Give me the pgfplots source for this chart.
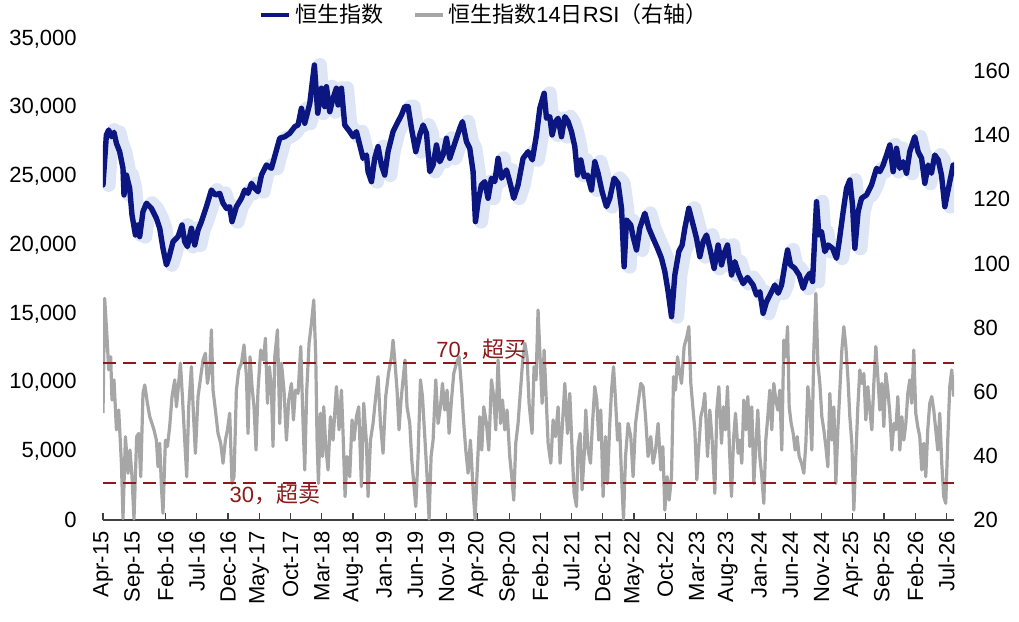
\documentclass[border=0pt]{standalone}
\usepackage{fontspec}
\setmainfont{Liberation Sans}
\newfontfamily\cjk{Noto Sans CJK SC}
\usepackage{pgfplots}
\pgfplotsset{compat=1.18}
\usepackage{pgfplotstable}
\definecolor{hsiblue}{RGB}{12,22,128}
\definecolor{bandblue}{RGB}{222,230,245}
\definecolor{rsigray}{RGB}{166,166,166}
\definecolor{ob}{RGB}{140,26,26}

\pgfplotstableread{
m v
0.00 24380
0.54 28020
0.91 28380
1.34 27890
1.76 28210
2.15 27410
2.67 26800
3.20 25590
3.36 23650
3.75 25100
4.27 24140
4.64 22200
5.19 20740
5.60 21470
5.87 20620
6.40 22440
6.95 23050
7.75 22680
8.55 21950
9.08 21230
9.60 19770
10.15 18560
10.52 19040
11.21 20250
12.01 20620
12.65 21470
13.08 20250
13.51 19890
14.15 21230
14.68 20010
15.21 21100
15.75 21710
16.55 22800
17.35 24010
17.99 23650
18.68 23770
19.21 23050
19.75 22680
20.28 22800
20.65 21710
21.35 22800
22.16 23410
22.68 24010
23.21 23770
23.76 24500
24.28 24140
24.81 23890
25.36 25100
26.16 25830
26.96 25590
27.76 26920
28.29 27780
29.09 27890
29.89 28140
30.69 28620
31.22 28740
31.76 29960
32.29 28870
33.09 30300
33.83 33110
34.37 29600
34.96 31420
35.49 30080
35.76 31530
36.29 29710
36.82 30690
37.36 31420
37.62 30200
38.16 31420
38.69 28740
39.49 28260
40.02 27890
40.56 28260
41.09 27290
41.62 26320
42.17 26560
42.42 25350
42.97 24620
43.49 26320
44.02 27170
44.56 25830
45.09 25100
45.62 26800
46.42 28260
47.22 28990
47.77 29470
48.30 30080
48.83 30080
49.37 28500
50.06 26800
50.70 28020
51.23 28740
51.77 28140
52.30 25350
52.83 25830
53.37 27290
53.90 26070
54.43 26560
54.97 27780
55.50 26320
56.03 27050
56.57 27780
57.10 28500
57.53 28990
58.17 27530
58.70 27050
59.23 25350
59.61 21710
60.03 23160
60.57 24380
61.10 24620
61.63 23410
62.17 24870
62.70 24620
63.23 26320
63.78 24870
64.58 25470
65.10 24620
65.74 23410
66.43 24380
67.23 26320
68.03 26800
68.71 26200
69.38 28020
69.91 29960
70.60 31050
70.98 29230
71.51 29350
71.88 28020
72.42 28990
72.84 29230
73.38 27890
73.91 29350
74.44 28990
74.98 28260
75.51 27170
75.94 25100
76.47 26200
77.00 24980
77.54 25100
78.18 24010
78.71 26070
79.24 25230
79.88 23890
80.58 22800
81.11 23410
81.80 24870
82.44 24500
82.99 22680
83.40 18430
83.79 21830
84.47 21470
84.84 20620
85.39 19650
85.91 21230
86.72 22320
87.36 21230
88.04 20500
88.75 19770
89.39 19040
89.92 18070
90.45 16610
90.99 14790
91.52 17830
92.16 19530
92.69 20010
93.12 21230
93.76 22680
94.45 21470
94.99 20500
95.52 19160
96.05 20250
96.59 20740
97.12 19770
97.81 18310
98.45 20010
98.99 18560
99.52 19530
99.95 20010
100.59 17830
101.12 18800
101.76 17900
102.45 17200
103.15 17650
104.05 17100
104.60 16370
105.13 16610
105.65 15040
106.20 15890
107.00 16610
107.53 17100
108.06 16500
108.60 17100
109.13 18560
109.56 19650
110.04 18560
110.73 18310
111.42 17830
112.06 16860
112.60 17590
113.13 17950
113.56 17350
114.20 23160
114.57 20740
115.00 20980
115.53 19530
116.06 20010
116.76 19770
117.40 19040
117.82 20250
118.46 22440
119.00 24140
119.53 24740
119.96 22920
120.33 19770
120.86 22440
121.40 23410
122.20 23650
123.00 24380
123.80 25590
124.33 25350
124.86 25830
125.40 26560
125.93 27290
126.46 25350
127.00 27050
127.53 25590
128.06 26070
128.60 25230
129.12 26800
129.92 27890
130.46 26800
131.01 26320
131.53 24500
132.06 25830
132.59 25230
133.12 26560
133.67 26200
134.20 25100
134.73 22800
135.42 24380
136.07 25830
}\hsi

\pgfplotstableread{
m r
0.00 53.3
0.27 89.1
0.70 75.1
0.91 66.8
1.23 70.9
1.44 57.4
1.76 63.7
2.15 48.1
2.51 54.3
2.95 37.7
3.20 20.5
3.59 46.0
4.00 34.6
4.32 41.8
4.64 33.5
4.96 20.3
5.39 46.0
5.71 47.0
6.04 33.5
6.40 59.5
6.68 62.1
7.11 56.4
7.48 52.2
7.84 50.1
8.16 48.1
8.55 44.9
8.80 36.6
9.08 43.9
9.35 30.4
9.60 22.1
9.99 44.9
10.31 42.9
10.67 49.1
11.05 58.5
11.48 63.7
11.75 55.3
12.01 60.5
12.39 68.9
12.71 58.5
13.08 44.9
13.40 33.5
13.72 55.3
14.15 67.8
14.47 53.3
14.79 40.8
15.21 58.5
15.64 64.7
16.01 69.9
16.39 72.0
16.71 62.6
17.08 66.8
17.35 79.3
17.61 60.5
17.99 54.3
18.41 47.0
18.84 43.9
19.21 37.7
19.59 44.9
19.91 48.1
20.28 53.3
20.65 31.4
20.97 33.5
21.35 60.5
21.72 66.8
22.16 68.9
22.57 74.6
22.96 64.7
23.21 47.0
23.53 70.9
23.85 61.6
24.17 55.3
24.49 41.8
24.81 60.5
25.24 73.0
25.68 69.9
26.00 76.7
26.32 56.4
26.64 67.8
26.96 60.5
27.21 42.9
27.49 70.9
27.92 79.3
28.29 50.1
28.56 68.9
28.97 60.5
29.36 44.9
29.73 57.4
30.16 62.6
30.48 51.2
30.80 60.5
31.22 59.5
31.65 74.1
32.02 50.1
32.29 35.6
32.61 60.5
32.98 75.1
33.36 81.3
33.73 88.6
34.05 70.9
34.26 44.9
34.48 31.4
34.80 53.3
35.12 39.8
35.33 55.3
35.65 42.9
36.02 35.6
36.40 52.2
36.82 44.9
37.09 53.3
37.36 61.6
37.78 48.1
38.16 60.5
38.42 47.0
38.74 27.3
39.06 39.8
39.49 33.5
39.86 51.2
40.18 44.9
40.56 52.2
40.93 55.3
41.36 30.4
41.73 56.4
42.17 43.9
42.42 27.3
42.81 44.9
43.22 50.1
43.65 58.5
44.02 64.7
44.41 50.1
44.82 40.8
45.25 58.5
45.69 65.7
46.17 70.9
46.42 76.1
46.74 68.9
47.06 60.5
47.38 48.1
47.70 57.4
48.02 63.7
48.34 69.9
48.66 55.3
49.10 50.1
49.42 38.7
49.74 31.4
50.06 24.2
50.42 39.8
50.81 63.7
51.13 58.5
51.50 46.0
51.87 33.5
52.19 20.3
52.51 39.8
52.83 44.9
53.26 63.7
53.63 50.1
54.01 55.3
54.33 62.6
54.70 54.3
55.07 60.5
55.39 47.0
55.77 57.4
56.14 65.7
56.57 68.9
56.99 70.9
57.37 61.6
57.74 50.1
58.06 41.8
58.43 34.6
58.81 44.9
59.23 29.4
59.55 20.3
59.87 34.6
60.30 52.2
60.62 41.8
60.94 55.3
61.37 50.1
61.74 41.8
62.17 63.7
62.54 58.5
62.86 48.1
63.23 69.9
63.62 50.1
63.94 57.4
64.30 48.1
64.67 54.3
65.10 39.8
65.42 33.5
65.74 26.2
66.06 43.9
66.43 50.1
66.82 60.5
67.14 68.9
67.51 75.1
67.87 70.9
68.19 56.4
68.67 47.0
68.99 67.8
69.31 63.7
69.63 85.5
69.95 70.9
70.28 56.4
70.60 73.0
70.92 58.5
71.24 43.9
71.67 37.7
72.04 51.2
72.42 46.0
72.84 55.3
73.16 37.7
73.48 48.1
73.91 62.6
74.34 47.0
74.71 59.5
75.08 41.8
75.40 28.3
75.78 24.2
76.04 42.9
76.36 47.0
76.68 29.4
77.00 39.8
77.27 54.3
77.64 41.8
78.02 37.7
78.34 50.1
78.71 61.6
79.03 57.4
79.35 44.9
79.67 54.3
80.04 27.3
80.42 46.0
80.74 31.4
81.11 50.1
81.39 60.5
81.71 67.8
82.03 57.4
82.35 44.9
82.67 50.1
82.99 33.5
83.31 20.3
83.63 39.8
84.04 50.1
84.47 46.0
84.84 33.5
85.23 50.1
85.64 56.4
86.07 62.6
86.44 61.6
86.83 52.2
87.24 39.8
87.67 46.0
88.04 37.7
88.43 41.8
88.84 50.1
89.28 35.6
89.60 42.9
89.92 23.1
90.29 33.5
90.61 26.2
90.99 33.5
91.31 64.7
91.63 60.5
91.95 70.9
92.27 66.4
92.59 62.6
93.01 74.1
93.44 77.2
93.76 80.3
94.08 62.6
94.40 55.3
94.72 48.1
95.04 32.5
95.36 42.9
95.68 52.2
96.05 55.3
96.32 59.5
96.75 39.8
97.12 54.3
97.49 44.9
97.92 28.3
98.24 54.3
98.56 61.6
98.99 43.9
99.31 55.3
99.63 48.1
99.95 61.6
100.27 41.8
100.59 27.3
100.91 44.9
101.23 53.3
101.65 40.8
101.92 44.9
102.24 37.7
102.56 57.4
102.88 48.1
103.20 58.5
103.52 42.9
103.84 55.3
104.16 31.4
104.48 42.9
104.80 54.3
105.12 39.8
105.44 33.5
105.76 25.2
106.08 44.9
106.40 52.2
106.72 60.5
107.04 48.1
107.36 62.6
107.68 57.4
108.00 54.3
108.32 60.5
108.64 41.8
108.96 76.1
109.28 70.9
109.56 80.3
109.82 55.3
110.14 50.1
110.46 47.0
110.78 41.8
111.10 46.0
111.42 39.8
111.80 37.7
112.17 34.6
112.49 43.9
112.81 61.6
113.13 55.3
113.45 41.8
113.77 73.0
114.09 90.7
114.41 68.9
114.73 62.6
115.05 52.2
115.37 48.1
115.69 42.9
116.01 36.6
116.33 59.5
116.65 44.9
116.97 55.3
117.29 31.4
117.61 48.1
117.93 60.5
118.25 73.0
118.57 80.3
118.89 74.1
119.21 64.7
119.53 52.2
119.85 43.9
120.17 23.1
120.49 39.8
120.81 55.3
121.13 66.8
121.45 62.6
121.77 65.7
122.09 51.2
122.41 61.6
122.73 54.3
123.05 48.1
123.37 62.6
123.69 74.1
124.01 64.7
124.33 54.3
124.65 62.6
124.97 49.1
125.29 65.7
125.61 60.5
125.93 53.3
126.25 41.8
126.57 50.1
126.89 48.1
127.21 58.5
127.53 41.8
127.85 52.2
128.17 44.9
128.49 50.1
128.81 59.5
129.12 63.7
129.44 56.4
129.76 73.0
130.08 53.3
130.40 49.1
130.72 46.0
131.04 35.6
131.36 43.9
131.68 33.5
132.00 48.1
132.32 56.4
132.64 58.5
132.96 54.3
133.28 48.1
133.60 41.8
133.92 53.3
134.24 37.7
134.56 27.3
134.88 25.2
135.20 44.9
135.52 61.6
135.84 66.8
136.16 58.5
}\rsi

\begin{document}
\begin{tikzpicture}
\useasboundingbox (-51.5pt,-51pt) rectangle (458pt,260pt);
\begin{axis}[
  scale only axis, width=425.5pt, height=240.5pt,
  xmin=0, xmax=136.2, ymin=0, ymax=35000,
  axis x line*=bottom, axis y line*=left,
  y axis line style={draw=none},
  x axis line style={black!75, line width=0.7pt, -},
  xtick={0,5,...,135},
  xticklabels={Apr-15,Sep-15,Feb-16,Jul-16,Dec-16,May-17,Oct-17,Mar-18,Aug-18,Jan-19,Jun-19,Nov-19,Apr-20,Sep-20,Feb-21,Jul-21,Dec-21,May-22,Oct-22,Mar-23,Aug-23,Jan-24,Jun-24,Nov-24,Apr-25,Sep-25,Feb-26,Jul-26},
  tick align=inside,
  xtick style={black!75, line width=0.6pt},
  major tick length=3.5pt,
  ytick={0,5000,...,35000},
  ytick style={draw=none},
  scaled y ticks=false,
  /pgf/number format/assume math mode=true,
  /pgf/number format/1000 sep={,},
  tick label style={font=\fontsize{11}{13}\selectfont, black},
  xticklabel style={rotate=90, anchor=east, inner sep=0pt, xshift=-5.5pt},
  yticklabel style={anchor=east, inner sep=0pt, xshift=-13pt},
]
\addplot[bandblue, line width=7pt, line join=round, line cap=round, forget plot] table[x expr=\thisrow{m}+0.9, y=v] {\hsi};
\addplot[hsiblue, line width=2.7pt, line join=round, line cap=round] table[x=m, y=v] {\hsi};
\end{axis}
\begin{axis}[
  scale only axis, width=425.5pt, height=240.5pt,
  xmin=0, xmax=136.2, ymin=20, ymax=170,
  axis y line*=right, axis x line=none,
  y axis line style={draw=none},
  ytick={20,40,...,160}, ytick style={draw=none},
  /pgf/number format/assume math mode=true,
  tick label style={font=\fontsize{11}{13}\selectfont, black},
  yticklabel style={anchor=west, inner sep=0pt, xshift=9.5pt},
  legend style={at={(0.449,1)}, anchor=center, yshift=12pt, draw=none, fill=none,
    font=\fontsize{11}{13}\selectfont, legend columns=2,
    /tikz/every even column/.append style={column sep=13pt}},
  legend cell align=left,
  legend image code/.code={\draw[#1, line cap=butt] (0pt,0pt) -- (14pt,0pt);},
]
\addlegendimage{hsiblue, line width=2.2pt}
\addlegendentry{{\cjk 恒生指数}}
\addplot[rsigray, line width=1.6pt, line join=round] table[x=m, y=r] {\rsi};
\addlegendentry{{\cjk 恒生指数}14{\cjk 日}RSI{\cjk （右轴）}}
\addplot[ob, line width=1.1pt, dash pattern=on 6.5pt off 3.5pt, forget plot] coordinates {(0,69) (136.2,69)};
\addplot[ob, line width=1.1pt, dash pattern=on 6.5pt off 3.5pt, forget plot] coordinates {(0,31.5) (136.2,31.5)};
\node[text=ob, font=\fontsize{11}{13}\selectfont] at (axis cs:60.6,73.3) {70{\cjk ，超买}};
\node[text=ob, font=\fontsize{11}{13}\selectfont] at (axis cs:27.5,28.1) {30{\cjk ，超卖}};
\end{axis}
\end{tikzpicture}
\end{document}
